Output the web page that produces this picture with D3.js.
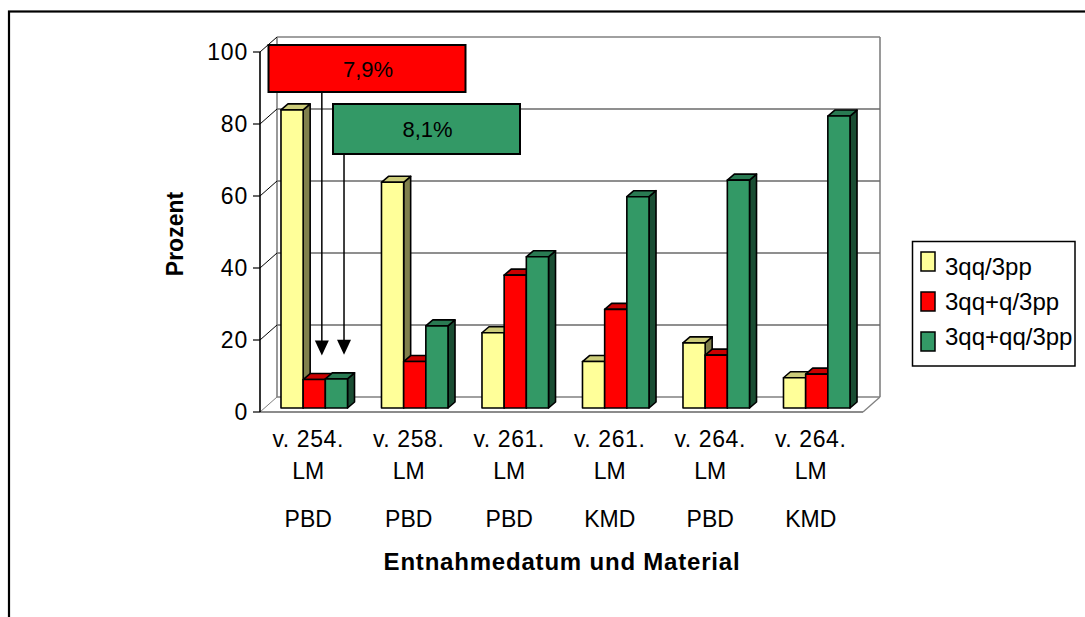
<!DOCTYPE html>
<html>
<head>
<meta charset="utf-8">
<script src="https://cdn.jsdelivr.net/npm/d3@7"></script>
<style>
  html, body { margin: 0; padding: 0; background: #fff; }
  svg { display: block; font-family: "Liberation Sans", Arial, sans-serif; }
</style>
</head>
<body>
<svg id="chart" width="1085" height="617"></svg>
<script>
// Sampling dates, unit and material per category
const dates = ["v. 254.", "v. 258.", "v. 261.", "v. 261.", "v. 264.", "v. 264."];
const units = ["LM", "LM", "LM", "LM", "LM", "LM"];
const materials = ["PBD", "PBD", "PBD", "KMD", "PBD", "KMD"];

// Series (percent)
const seriesNames = ["3qq/3pp", "3qq+q/3pp", "3qq+qq/3pp"];
const s1 = [82.8, 62.7, 20.9, 12.9, 18.1, 8.4];
const s2 = [7.9, 12.9, 36.9, 27.4, 14.7, 9.4];
const s3 = [8.1, 22.8, 42.0, 58.7, 63.3, 81.1];

const yTicks = [0, 20, 40, 60, 80, 100];
const calloutLabels = ["7,9%", "8,1%"];

const series = [s1, s2, s3];
const palette = [
  { front: "#FFFF99", top: "#CCCC7A", side: "#80804C" },
  { front: "#FF0000", top: "#CC0000", side: "#800000" },
  { front: "#339966", top: "#297A52", side: "#1A4D33" }
];

const svg = d3.select("#chart");

// Plot geometry (front plane of the 3D box)
const X0 = 260, X1 = 863, Y0 = 412, Y1 = 52;
const DX = 17, DY = -15;          // floor depth
const BX = 4, BY = -4;            // bar front plane offset
const BDX = 7, BDY = -6;          // bar depth

const y = d3.scaleLinear().domain([0, 100]).range([Y0, Y1]);
const xBand = d3.scaleBand().domain(d3.range(dates.length)).range([X0, X1])
  .paddingInner(0.338).paddingOuter(0.169);
const xSub = d3.scaleBand().domain(d3.range(series.length)).range([0, xBand.bandwidth()]);

// Outer chart frame
svg.append("rect").attr("x", 9).attr("y", 11.5).attr("width", 1300).attr("height", 800)
  .attr("fill", "none").attr("stroke", "#000").attr("stroke-width", 2.2);

const wall = svg.append("g");
const grey = "#808080";

// Back wall outline
wall.append("line").attr("x1", X0 + DX).attr("x2", X0 + DX).attr("y1", y(100) + DY).attr("y2", y(0) + DY)
  .attr("stroke", grey).attr("stroke-width", 1.6);
wall.append("line").attr("x1", X1 + DX).attr("x2", X1 + DX).attr("y1", y(100) + DY).attr("y2", y(0) + DY)
  .attr("stroke", grey).attr("stroke-width", 1.6);

// Gridlines on the back wall and connectors on the side wall
yTicks.forEach(t => {
  const yy = y(t);
  wall.append("line").attr("x1", X0 + DX).attr("x2", X1 + DX).attr("y1", yy + DY).attr("y2", yy + DY)
    .attr("stroke", t === 0 || t === 100 ? grey : "#6a6a6a").attr("stroke-width", 1.5);
  wall.append("line").attr("x1", X0).attr("x2", X0 + DX).attr("y1", yy).attr("y2", yy + DY)
    .attr("stroke", t === 0 ? grey : "#000").attr("stroke-width", 1);
});

// Floor front edge and right diagonal
wall.append("line").attr("x1", X0).attr("x2", X1).attr("y1", Y0).attr("y2", Y0)
  .attr("stroke", "#666").attr("stroke-width", 1.5);
wall.append("line").attr("x1", X1).attr("x2", X1 + DX).attr("y1", Y0).attr("y2", Y0 + DY)
  .attr("stroke", grey).attr("stroke-width", 1.3);

// Bars
const bars = svg.append("g").attr("stroke", "#000").attr("stroke-width", 1.6).attr("stroke-linejoin", "round");
dates.forEach((d, i) => {
  series.forEach((s, j) => {
    const v = s[i];
    const x = xBand(i) + xSub(j) + BX;
    const w = xSub.bandwidth();
    const yt = y(v) + BY, yb = y(0) + BY;
    const c = palette[j];
    bars.append("polygon")
      .attr("points", [[x + w, yt], [x + w + BDX, yt + BDY], [x + w + BDX, yb + BDY], [x + w, yb]].join(" "))
      .attr("fill", c.side);
    bars.append("polygon")
      .attr("points", [[x, yt], [x + w, yt], [x + w + BDX, yt + BDY], [x + BDX, yt + BDY]].join(" "))
      .attr("fill", c.top);
    bars.append("rect").attr("x", x).attr("y", yt).attr("width", w).attr("height", yb - yt)
      .attr("fill", c.front);
  });
});

// Y axis
const axis = svg.append("g");
axis.append("line").attr("x1", X0).attr("x2", X0).attr("y1", Y1).attr("y2", Y0)
  .attr("stroke", "#000").attr("stroke-width", 1.6);
yTicks.forEach(t => {
  axis.append("line").attr("x1", X0 - 7).attr("x2", X0).attr("y1", y(t)).attr("y2", y(t))
    .attr("stroke", "#000").attr("stroke-width", 1.2);
  axis.append("text").attr("x", X0 - 12).attr("y", y(t) + 8).attr("text-anchor", "end")
    .attr("font-size", 23).attr("letter-spacing", 0.8).attr("fill", "#000").text(t);
});

// Category labels
const labels = svg.append("g").attr("font-size", 23).attr("text-anchor", "middle").attr("fill", "#000");
dates.forEach((d, i) => {
  const cx = X0 + (xBand.step() * (i + 0.5)) - 2;
  labels.append("text").attr("x", cx).attr("y", 446.5).attr("letter-spacing", 0.6).text(d);
  labels.append("text").attr("x", cx).attr("y", 478.5).text(units[i]);
  labels.append("text").attr("x", cx).attr("y", 526.5).text(materials[i]);
});

// Axis titles
svg.append("text").attr("x", 562).attr("y", 570).attr("text-anchor", "middle")
  .attr("font-size", 24).attr("font-weight", "bold").attr("letter-spacing", 0.8)
  .text("Entnahmedatum und Material");
svg.append("text").attr("transform", "translate(183,234) rotate(-90)").attr("text-anchor", "middle")
  .attr("font-size", 23).attr("font-weight", "bold").text("Prozent");

// Callouts for the small first-group values
const callouts = [
  { serie: 1, box: [268.5, 45, 197, 47], fill: "#FF0000" },
  { serie: 2, box: [333, 104, 187, 50], fill: "#339966" }
];
const ann = svg.append("g");
callouts.forEach((c, k) => {
  const [bx, by, bw, bh] = c.box;
  const v = series[c.serie][0];
  const ax = xBand(0) + xSub(c.serie) + xSub.bandwidth() + 0.5;
  const tip = y(v) + BY - 24;
  ann.append("line").attr("x1", ax).attr("x2", ax).attr("y1", by + bh).attr("y2", tip - 12)
    .attr("stroke", "#000").attr("stroke-width", 1.5);
  ann.append("polygon").attr("points", [[ax - 7, tip - 15], [ax + 7, tip - 15], [ax, tip]].join(" "))
    .attr("fill", "#000");
  ann.append("rect").attr("x", bx).attr("y", by).attr("width", bw).attr("height", bh)
    .attr("fill", c.fill).attr("stroke", "#000").attr("stroke-width", 2);
  ann.append("text").attr("x", bx + bw / 2 + 1).attr("y", by + bh / 2 + 8).attr("text-anchor", "middle")
    .attr("font-size", 22).attr("fill", "#000").text(calloutLabels[k]);
});

// Legend
const lg = svg.append("g");
lg.append("rect").attr("x", 912.5).attr("y", 241.5).attr("width", 162.5).attr("height", 124.5)
  .attr("fill", "#fff").attr("stroke", "#000").attr("stroke-width", 1.5);
seriesNames.forEach((n, j) => {
  lg.append("rect").attr("x", 921).attr("y", 252 + 40 * j).attr("width", 14).attr("height", 19)
    .attr("fill", palette[j].front).attr("stroke", "#000").attr("stroke-width", 1.5);
  lg.append("text").attr("x", 945).attr("y", 275 + 35 * j).attr("font-size", 24).attr("fill", "#000").text(n);
});
</script>
</body>
</html>
